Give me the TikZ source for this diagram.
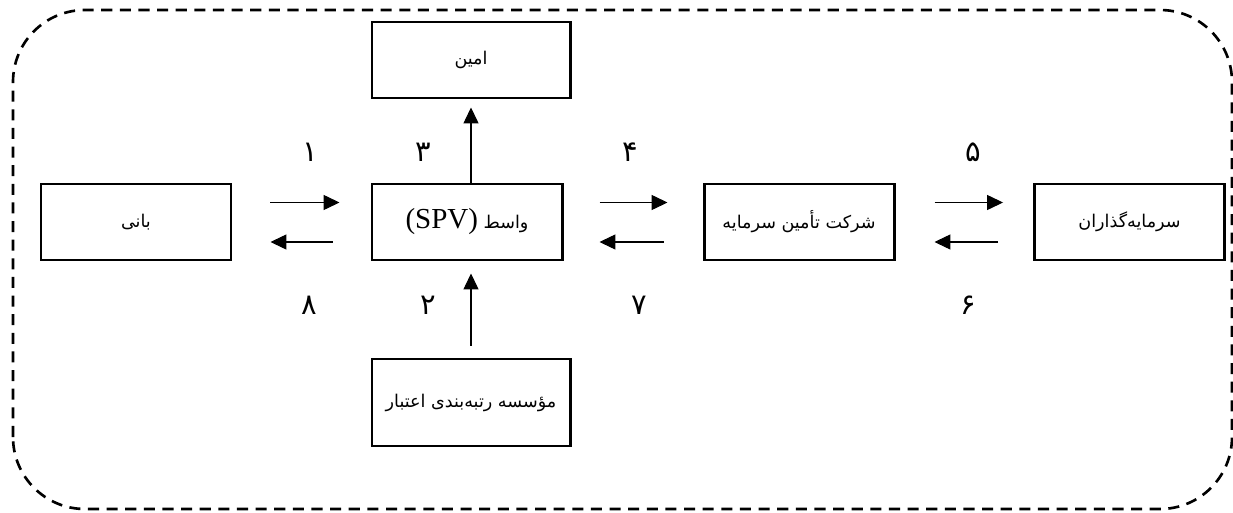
\documentclass[tikz,border=0pt]{standalone}
\usepackage{fontspec}
\setmainfont{Liberation Serif}
\newfontfamily\farsi[Script=Arabic]{DejaVu Sans}
\TeXXeTstate=1
\usetikzlibrary{arrows.meta,positioning,calc}

\tikzset{
    box/.style={draw, line width=1.7pt, minimum width=3.8cm, minimum height=1.52cm, inner sep=0pt, font=\farsi\fontsize{10}{12}\selectfont},
    wbox/.style={box, minimum width=3.96cm},
    num/.style={font=\farsi\fontsize{16.5}{18}\selectfont},
    flow/.style={-{Triangle[length=9pt,width=8.5pt]}, line width=0.6pt},
    frame/.style={line width=1.5pt, dash pattern=on 6.3pt off 4.3pt, rounded corners=1.44cm}
}

\begin{document}
\begin{tikzpicture}
    \useasboundingbox (0,0) rectangle (24.66,10.24);
    \draw[frame] (0.26,0.06) rectangle (24.64,10.04);

    \node[box] (bani) at (2.72,5.80) {\beginR بانی\endR};
    \node[box] (spv) at (9.34,5.80) {\beginR واسط \beginL{\rmfamily\fontsize{16.5}{18}\selectfont(SPV)}\endL\endR};
    \node[box] (sherkat) at (15.98,5.80) {\beginR شرکت تأمین سرمایه\endR};
    \node[box] (sarmaye) at (22.59,5.80) {\beginR سرمایه^^^^200cگذاران\endR};
    \node[wbox] (amin) at (9.42,9.04) {\beginR امین\endR};
    \node[wbox, minimum height=1.74cm] (rating) at (9.42,2.19) {\beginR مؤسسه رتبه^^^^200cبندی اعتبار\endR};

    \draw[flow] ([xshift=0.76cm,yshift=0.39cm]bani.east) -- ([xshift=-0.62cm,yshift=0.39cm]spv.west);
    \draw[flow] ([xshift=-0.76cm,yshift=-0.4cm]spv.west) -- ([xshift=0.76cm,yshift=-0.4cm]bani.east);
    \draw[flow] ([xshift=0.72cm,yshift=0.39cm]spv.east) -- ([xshift=-0.7cm,yshift=0.39cm]sherkat.west);
    \draw[flow] ([xshift=-0.78cm,yshift=-0.4cm]sherkat.west) -- ([xshift=0.72cm,yshift=-0.4cm]spv.east);
    \draw[flow] ([xshift=0.78cm,yshift=0.39cm]sherkat.east) -- ([xshift=-0.6cm,yshift=0.39cm]sarmaye.west);
    \draw[flow] ([xshift=-0.7cm,yshift=-0.4cm]sarmaye.west) -- ([xshift=0.78cm,yshift=-0.4cm]sherkat.east);

    \draw[flow] (amin.south |- spv.north) -- ([yshift=-0.16cm]amin.south);
    \draw[flow] ([yshift=0.24cm]rating.north) -- ([yshift=-0.24cm]rating.north |- spv.south);

    \node[num] (n1) at (6.2,7.2) {۱};
    \node[num] (n3) at (8.46,7.2) {۳};
    \node[num] (n4) at (12.6,7.2) {۴};
    \node[num] (n5) at (19.46,7.2) {۵};
    \node[num] (n8) at (6.18,4.14) {۸};
    \node[num] (n2) at (8.56,4.14) {۲};
    \node[num] (n7) at (12.78,4.14) {۷};
    \node[num] (n6) at (19.36,4.14) {۶};
\end{tikzpicture}
\end{document}
